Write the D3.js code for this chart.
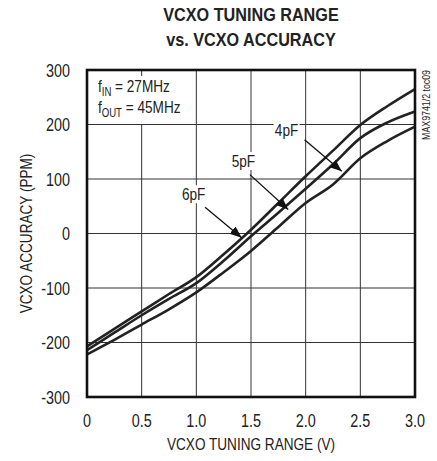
<!DOCTYPE html>
<html>
<head>
<meta charset="utf-8">
<script src="https://cdn.jsdelivr.net/npm/d3@7"></script>
<style>
  body { margin: 0; background: #fff; }
  text { font-family: "Liberation Sans", Arial, sans-serif; fill: #222; }
</style>
</head>
<body>
<div id="chart"></div>
<script>
// tuning voltage (V) and accuracy (ppm)
const tuning = [0, 0.25, 0.5, 0.75, 1.0, 1.25, 1.5, 1.75, 2.0, 2.25, 2.5, 2.75, 3.0];
const acc6pF = [-207, -175, -143, -111, -80, -38, 7, 56, 105, 152, 199, 234, 265];
const acc5pF = [-214, -182, -150, -120, -91, -50, -5, 38, 82, 127, 175, 204, 224];
const acc4pF = [-222, -195, -167, -139, -108, -71, -32, 12, 56, 90, 138, 170, 196];

const xTicks = [0, 0.5, 1.0, 1.5, 2.0, 2.5, 3.0];
const xTickLabels = ["0", "0.5", "1.0", "1.5", "2.0", "2.5", "3.0"];
const yTicks = [-300, -200, -100, 0, 100, 200, 300];

// label position, arrow start, arrow tip (data units)
const capLabels = ["6pF", "5pF", "4pF"];
const labelAt = [[0.975, 72], [1.43, 133], [1.825, 189]];
const arrowFrom = [[1.08, 48], [1.49, 108], [1.99, 172]];
const arrowTo = [[1.415, -8], [1.84, 44], [2.33, 114]];

const W = 437, H = 461;
const margin = {top: 70, right: 22, bottom: 64, left: 87};
const width = W - margin.left - margin.right;
const height = H - margin.top - margin.bottom;

const svg = d3.select("#chart").append("svg")
    .attr("width", W)
    .attr("height", H);

const g = svg.append("g")
    .attr("transform", `translate(${margin.left},${margin.top})`);

const x = d3.scaleLinear().domain([0, 3]).range([0, width]);
const y = d3.scaleLinear().domain([-300, 300]).range([height, 0]);

// condensed look: squeeze a normal face horizontally
function ntext(parent, px, py, str, size, anchor, rot, sx) {
    let wrap = parent.append("g")
        .attr("transform", `translate(${px},${py})` + (rot ? ` rotate(${rot})` : "") + ` scale(${sx || 0.8},1)`);
    let t = wrap.append("text")
        .attr("text-anchor", anchor || "start")
        .style("font-size", size + "px");
    if (str !== null) t.text(str);
    return t;
}

// title
ntext(svg, 251, 21, "VCXO TUNING RANGE", 18, "middle", 0, 0.9).style("font-weight", "bold");
ntext(svg, 251, 46, "vs. VCXO ACCURACY", 18, "middle", 0, 0.9).style("font-weight", "bold");

// grid
g.selectAll(".vgrid")
    .data(xTicks.slice(1, -1))
    .enter().append("line")
    .attr("class", "vgrid")
    .attr("x1", d => x(d)).attr("x2", d => x(d))
    .attr("y1", 0).attr("y2", height)
    .attr("stroke", "#333").attr("stroke-width", 1);

g.selectAll(".hgrid")
    .data(yTicks.slice(1, -1))
    .enter().append("line")
    .attr("class", "hgrid")
    .attr("x1", 0).attr("x2", width)
    .attr("y1", d => y(d)).attr("y2", d => y(d))
    .attr("stroke", "#333").attr("stroke-width", 1);

// tick labels
xTicks.forEach(function (d, i) {
    ntext(g, x(d), height + 30, xTickLabels[i], 18, "middle");
});
yTicks.forEach(function (d) {
    ntext(g, -17, y(d) + 6.5, String(d), 18, "end");
});

// axis titles
ntext(svg, margin.left + width / 2, 450, "VCXO TUNING RANGE (V)", 17, "middle");
ntext(svg, 32, margin.top + height / 2, "VCXO ACCURACY (PPM)", 17, "middle", -90);

// conditions box
g.append("rect")
    .attr("x", 3).attr("y", 6)
    .attr("width", 100).attr("height", 48)
    .attr("fill", "#fff");
let t1 = ntext(g, x(0.1), y(259), null, 17);
t1.append("tspan").text("f");
t1.append("tspan").attr("dy", 4).style("font-size", "12px").text("IN");
t1.append("tspan").attr("dy", -4).text(" = 27MHz");
let t2 = ntext(g, x(0.1), y(222), null, 17);
t2.append("tspan").text("f");
t2.append("tspan").attr("dy", 4).style("font-size", "12px").text("OUT");
t2.append("tspan").attr("dy", -4).text(" = 45MHz");

// curves
const line = d3.line()
    .x((d, i) => x(tuning[i]))
    .y(d => y(d))
    .curve(d3.curveMonotoneX);

[acc6pF, acc5pF, acc4pF].forEach(function (s) {
    g.append("path")
        .datum(s)
        .attr("d", line)
        .attr("fill", "none")
        .attr("stroke", "#222")
        .attr("stroke-width", 2.6);
});

// capacitance labels with arrows
svg.append("defs").append("marker")
    .attr("id", "head")
    .attr("viewBox", "0 0 10 10")
    .attr("refX", 10).attr("refY", 5)
    .attr("markerWidth", 12).attr("markerHeight", 12)
    .attr("markerUnits", "userSpaceOnUse")
    .attr("orient", "auto")
    .append("path")
    .attr("d", "M0,1 L10,5 L0,9 Z")
    .attr("fill", "#111");

capLabels.forEach(function (lab, i) {
    let lx = x(labelAt[i][0]), ly = y(labelAt[i][1]);
    g.append("rect")
        .attr("x", lx - 13).attr("y", ly - 9)
        .attr("width", 26).attr("height", 18)
        .attr("fill", "#fff");
    ntext(g, lx, ly + 6, lab, 17, "middle");
    g.append("line")
        .attr("x1", x(arrowFrom[i][0])).attr("y1", y(arrowFrom[i][1]))
        .attr("x2", x(arrowTo[i][0])).attr("y2", y(arrowTo[i][1]))
        .attr("stroke", "#111").attr("stroke-width", 1.3)
        .attr("marker-end", "url(#head)");
});

// frame
g.append("rect")
    .attr("width", width).attr("height", height)
    .attr("fill", "none")
    .attr("stroke", "#111").attr("stroke-width", 2.6);

// part number
ntext(svg, 430, margin.top, "MAX9741/2 toc09", 11, "end", -90);
</script>
</body>
</html>
